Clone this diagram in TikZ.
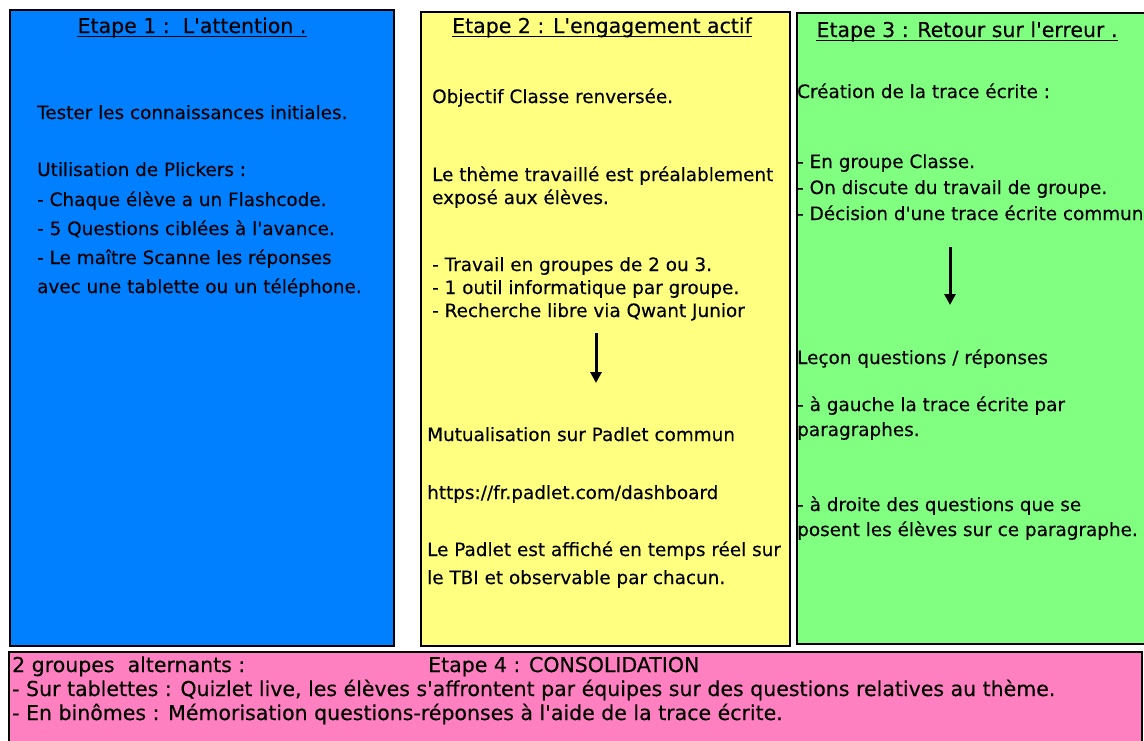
\documentclass[tikz,border=0pt]{standalone}
\usepackage{fontspec}
\setmainfont{DejaVu Sans}[Ligatures=TeXOff,FakeBold=0.3]
\usetikzlibrary{arrows.meta,calc}
\definecolor{stepblue}{RGB}{0,128,255}
\definecolor{stepyellow}{RGB}{255,255,128}
\definecolor{stepgreen}{RGB}{128,255,128}
\definecolor{steppink}{RGB}{255,128,192}
\begin{document}
\begin{tikzpicture}[x=1pt,y=-1pt,
  panel/.style={draw=black,line width=2pt,inner sep=0pt,anchor=north west},
  txt/.style={anchor=base west,inner sep=0pt,font=\fontsize{18.4}{22}\selectfont},
  big/.style={anchor=base west,inner sep=0pt,font=\fontsize{20.5}{24}\selectfont},
  ttl/.style={anchor=base,inner sep=0pt,font=\fontsize{20.5}{24}\selectfont},
  uline/.style={line width=1.2pt},
  arr/.style={line width=3pt,-{Triangle[width=11pt,length=11pt]}}]
\useasboundingbox (0,0) rectangle (1144,740);
\fill[white] (0,0) rectangle (1144,740);
\begin{scope}
\clip (0,0) rectangle (1144,740);
% the four panels
\node (p1) [panel,fill=stepblue,minimum width=384pt,minimum height=636pt] at (9,9) {};
\node (p2) [panel,fill=stepyellow,minimum width=369pt,minimum height=634pt] at (420,11) {};
\node (p3) [panel,fill=stepgreen,minimum width=380pt,minimum height=631pt] at (796,12) {};
\node (p4) [panel,fill=steppink,minimum width=1133pt,minimum height=110pt] at (8,651) {};

% step 1
\node (t1) [ttl] at (192,33) {Etape 1 :\ \ L'attention .};
\draw[uline] ($(t1.base west)+(0,3.5)$) -- ($(t1.base east)+(0,3.5)$);
\node (b1) [txt] at (37,119) {Tester les connaissances initiales.};
\node (b2) [txt] at (37,176) {Utilisation de Plickers :};
\node (b3) [txt] at (37,206) {- Chaque élève a un Flashcode.};
\node (b4) [txt] at (37,235) {- 5 Questions ciblées à l'avance.};
\node (b5) [txt] at (37,264) {- Le maître Scanne les réponses};
\node (b6) [txt] at (37,293) {avec une tablette ou un téléphone.};

% step 2
\node (t2) [ttl] at (602,33) {Etape 2 : L'engagement actif};
\draw[uline] ($(t2.base west)+(0,3.5)$) -- ($(t2.base east)+(0,3.5)$);
\node (y1) [txt] at (432,103) {Objectif Classe renversée.};
\node (y2) [txt] at (432,181) {Le thème travaillé est préalablement};
\node (y3) [txt] at (432,204) {exposé aux élèves.};
\node (y4) [txt] at (432,271) {- Travail en groupes de 2 ou 3.};
\node (y5) [txt] at (432,294) {- 1 outil informatique par groupe.};
\node (y6) [txt] at (432,317) {- Recherche libre via Qwant Junior};
\coordinate (y6s) at (596,333);
\coordinate (y6e) at (596,383);
\draw[arr] (y6s) -- (y6e);
\node (y7) [txt] at (427,441) {Mutualisation sur Padlet commun};
\node (y8) [txt] at (427,499) {https://fr.padlet.com/dashboard};
\node (y9) [txt] at (427,556) {Le Padlet est affiché en temps réel sur};
\node (y10) [txt] at (427,584) {le TBI et observable par chacun.};

% step 3
\node (t3) [ttl] at (967,37) {Etape 3 : Retour sur l'erreur .};
\draw[uline] ($(t3.base west)+(0,3.5)$) -- ($(t3.base east)+(0,3.5)$);
\node (g1) [txt] at (797,98) {Création de la trace écrite :};
\node (g2) [txt] at (797,168) {- En groupe Classe.};
\node (g3) [txt] at (797,194) {- On discute du travail de groupe.};
\node (g4) [txt] at (797,220) {- Décision d'une trace écrite commune};
\coordinate (g4s) at (950,247);
\coordinate (g4e) at (950,305);
\draw[arr] (g4s) -- (g4e);
\node (g5) [txt] at (797,364) {Leçon questions / réponses};
\node (g6) [txt] at (797,411) {- à gauche la trace écrite par};
\node (g7) [txt] at (797,436) {paragraphes.};
\node (g8) [txt] at (797,511) {- à droite des questions que se};
\node (g9) [txt] at (797,536) {posent les élèves sur ce paragraphe.};

% step 4
\node (r1) [big] at (12,672) {2 groupes\ \ alternants :};
\node (r2) [big] at (428,672) {Etape 4 : CONSOLIDATION};
\node (r3) [big] at (12,696) {- Sur tablettes : Quizlet live, les élèves s'affrontent par équipes sur des questions relatives au thème.};
\node (r4) [big] at (12,720) {- En binômes : Mémorisation questions-réponses à l'aide de la trace écrite.};
\end{scope}
\end{tikzpicture}
\end{document}
